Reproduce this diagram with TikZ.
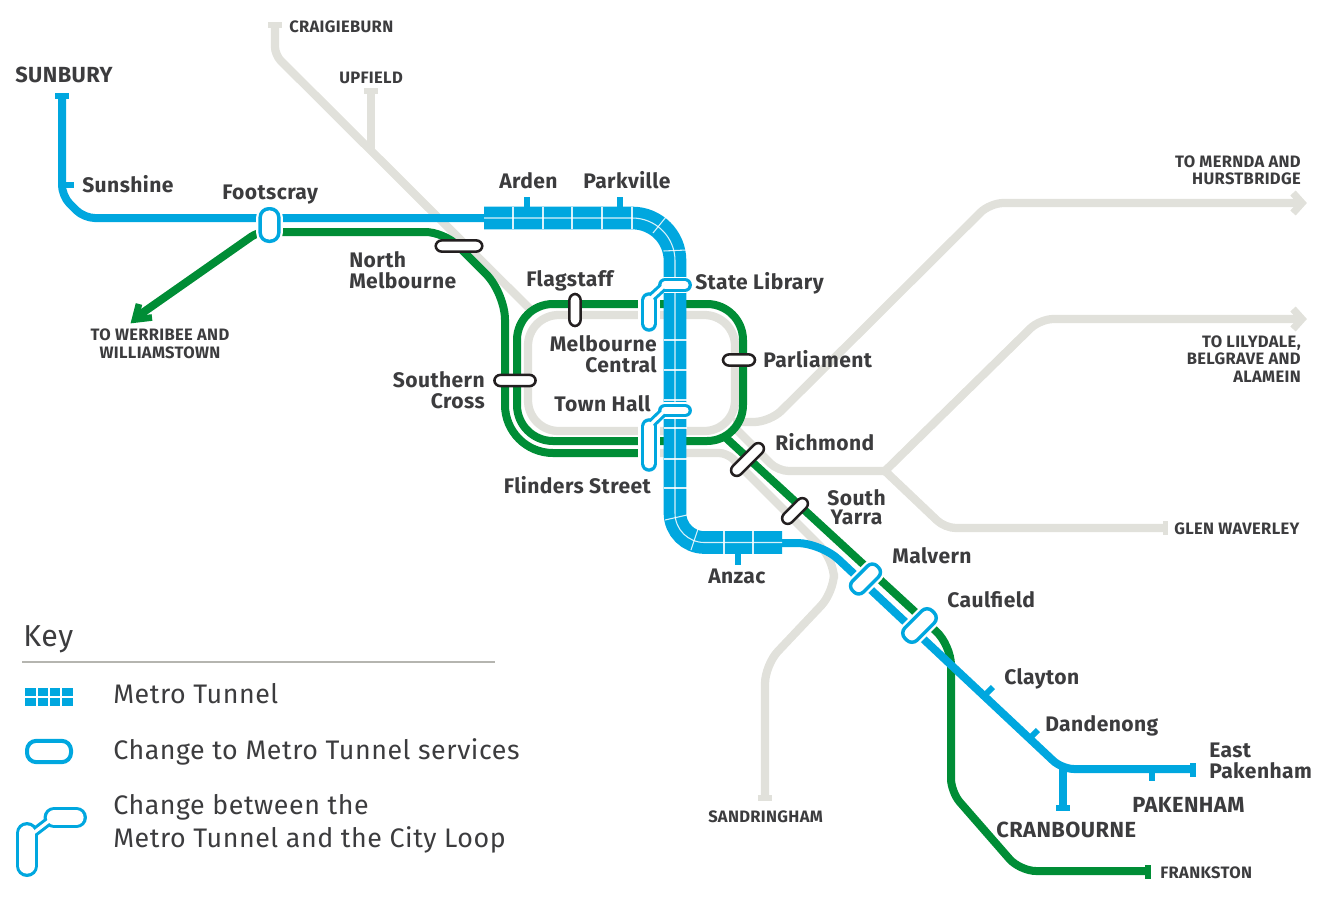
\documentclass[tikz,border=0pt]{standalone}
\usepackage{fontspec}
\setmainfont{Fira Sans}[LetterSpace=2]
\usetikzlibrary{arrows.meta}
\definecolor{mblue}{HTML}{00A7DF}
\definecolor{mgreen}{HTML}{008D36}
\definecolor{mgrey}{HTML}{E1E1DB}
\definecolor{mtext}{HTML}{3C3C3E}
\definecolor{mrule}{HTML}{B5B5B0}
\definecolor{mblack}{HTML}{231F20}
\tikzset{
 greyline/.style={draw=mgrey,line width=6.2pt},
 greenline/.style={draw=mgreen,line width=6pt},
 blueline/.style={draw=mblue,line width=6pt},
 bluestub/.style={draw=mblue,line width=4.4pt},
 greystub/.style={draw=mgrey,line width=4.4pt},
 tunnel/.style={draw=mblue,line width=17pt},
 tunnelmark/.style={draw=white,line width=0.8pt,opacity=0.85},
 lab/.style={text=mtext,font=\fontsize{15.8}{15.8}\selectfont\bfseries,inner sep=0pt,anchor=base west},
 labr/.style={lab,anchor=base east},
 labc/.style={lab,anchor=base},
 big/.style={text=mtext,font=\fontsize{16.4}{16.4}\selectfont\bfseries,inner sep=0pt,anchor=base west},
 small/.style={text=mtext,font=\fontsize{12.4}{12.4}\selectfont\bfseries,inner sep=0pt,anchor=base west},
 smallr/.style={small,anchor=base east},
 smallc/.style={small,anchor=base},
 keytext/.style={text=mtext,font=\fontsize{20.1}{20.1}\selectfont,inner sep=0pt,anchor=base west},
 pillk/.style={draw=mblack,fill=white,line width=1.9pt,rounded corners=4.5pt,inner sep=0pt},
 pillb/.style={draw=mblue,fill=white,line width=2.6pt,rounded corners=6pt,inner sep=0pt,
   preaction={draw=white,line width=6pt}},
}
% #1 vertical pill x, #2 top y, #3 bottom y, #4 #5 horizontal pill left and right x, #6 its y,
% #7 outer width of the vertical pill, #8 outer height of the horizontal pill (both in pt)
% the link between the two pills runs from \linkA to \linkB
\newcommand{\changepill}[8]{%
 \draw[white,line width=#7+4.5pt,line cap=round] (#1,#2)--(#1,#3);
 \draw[white,line width=#8+2pt,line cap=round] (#4,#6)--(#5,#6);
 \draw[mblue,line width=#7,line cap=round] (#1,#2)--(#1,#3);
 \draw[mblue,line width=#8,line cap=round] (#4,#6)--(#5,#6);
 \draw[mblue,line width=7pt] \linkA--\linkB;
 \draw[white,line width=#7-5pt,line cap=round] (#1,#2)--(#1,#3);
 \draw[white,line width=#8-5pt,line cap=round] (#4,#6)--(#5,#6);
 \draw[white,line width=2.4pt] \linkA--\linkB;
}
\begin{document}
\begin{tikzpicture}[x=0.75pt,y=-0.75pt]
\useasboundingbox (0,0) rectangle (1322,904);
% grey lines
\draw[greyline] (275,25)[rounded corners=6pt]--(275,55)--(532,311);
\draw[greyline] (371,90)--(371,151);
\draw[greyline,rounded corners=23pt] (640,315)--(528,315)--(528,431)--(735,431)--(735,315)--cycle;
\draw[greyline] (733,422)[rounded corners=12pt]--(770,422)[rounded corners=10pt]--(990,203)--(1300,203);
\draw[greyline] (733,426)[rounded corners=8pt]--(778,471)--(885,471);
\draw[greyline,line cap=round] (885,471)[rounded corners=10pt]--(1040,319)--(1298,319);
\draw[greyline,line cap=round] (885,471)[rounded corners=8pt]--(945,528)--(1163,528);
\draw[greyline] (640,453)[rounded corners=6pt]--(727,453)[rounded corners=14pt]--(834,560)--(834,592)--(765,665)--(765,797);
\draw[greystub] (268,25)--(282,25);
\draw[greystub] (364,91)--(378,91);
\draw[greystub] (1165.5,521)--(1165.5,535);
\draw[greystub] (758,798)--(772,798);
\draw[mgrey,line width=5.5pt,line join=miter] (1293,193)--(1302,203)--(1293,213);
\draw[mgrey,line width=5.5pt,line join=miter] (1293,309)--(1302,319)--(1293,329);
% green lines
\draw[greenline] (138,316)[rounded corners=6pt]--(258,232)[rounded corners=14pt]--(444,232)[rounded corners=20pt]--(505,293)[rounded corners=36pt]--(505,453)--(640,453);
\draw[greenline,rounded corners=27pt] (640,304)--(517,304)--(517,441)--(743,441)--(743,304)--cycle;
\draw[greenline] (725,437)[rounded corners=15pt]--(951,645)[rounded corners=10pt]--(951,792)[rounded corners=12pt]--(1020,871)--(1146,871);
\draw[mgreen,line width=5pt,line join=miter] (152,317.5)--(135,319.5)--(139,304);
\draw[draw=mgreen,line width=4.4pt] (1148,865)--(1148,879);
% blue thin lines
\draw[blueline] (62,95)[rounded corners=8pt]--(62,196)--(84,218)--(490,218);
\draw[blueline] (780,543)[rounded corners=18pt]--(821,543)[rounded corners=9pt]--(1062,769)--(1192,769);
\draw[blueline] (1063,765)--(1063,808);
\draw[bluestub] (55,96)--(69,96);
\draw[bluestub] (1056,808)--(1070,808);
\draw[bluestub] (1193,763)--(1193,777);
\draw[bluestub] (62,185)--(74,185);
\draw[bluestub] (527,197)--(527,210);
\draw[bluestub] (620,197)--(620,210);
\draw[bluestub] (738,552)--(738,565);
\draw[bluestub] (985,695)--(993,687);
\draw[bluestub] (1030,738)--(1038,730);
\draw[bluestub] (1152,770)--(1152,781);
% tunnel
\draw[tunnel] (484,218)[rounded corners=32pt]--(675,218)[rounded corners=22pt]--(675,542.5)--(782,542.5);
\draw[tunnelmark] (484,218)[rounded corners=32pt]--(675,218)[rounded corners=22pt]--(675,542.5)--(782,542.5);
\foreach \x in {513,543,572,602,632} \draw[tunnelmark] (\x,207)--(\x,229);
\draw[tunnelmark] (653,233)--(666,217);
\draw[tunnelmark] (663.5,251)--(686.5,250);
\foreach \y in {340,370,400,428,459,488} \draw[tunnelmark] (663.5,\y)--(686.5,\y);
\draw[tunnelmark] (665,520)--(687,515);
\draw[tunnelmark] (698,529)--(691,550);
\foreach \x in {724,753} \draw[tunnelmark] (\x,531)--(\x,554);
% change pills
\def\linkA{(651,298)}\def\linkB{(663,287)}
\changepill{649}{300.5}{323.5}{665}{685}{285}{12.4pt}{10.4pt}
\def\linkA{(651,424)}\def\linkB{(663,412.5)}
\changepill{649}{426.5}{463.5}{665}{685}{410.5}{12.4pt}{10.4pt}
% simple pills
\node[pillb,minimum width=14pt,minimum height=24.4pt,rounded corners=6.5pt,preaction={draw=white,line width=4pt}] (footscray) at (269.5,225) {};
\node[pillk,minimum width=35pt,minimum height=8.4pt] (northmelb) at (459,246) {};
\node[pillk,minimum width=8.4pt,minimum height=24pt] (flagstaff) at (575,310) {};
\node[pillk,minimum width=31pt,minimum height=8.4pt] (southerncross) at (515,380.5) {};
\node[pillk,minimum width=24pt,minimum height=8.4pt] (parliament) at (739,360) {};
\node[pillk,minimum width=31.5pt,minimum height=8.6pt,rotate=45] (richmond) at (747.5,459.5) {};
\node[pillk,minimum width=24pt,minimum height=8.6pt,rotate=45] (southyarra) at (795,511) {};
\node[pillb,minimum width=26pt,minimum height=11.6pt,rotate=45,rounded corners=5pt] (malvern) at (865.5,579) {};
\node[pillb,minimum width=29pt,minimum height=13pt,rotate=45,rounded corners=5.5pt] (caulfield) at (919.5,625.5) {};
% labels
\node[big] (tsunbury) at (15,82) {SUNBURY};
\node[lab] (tsunshine) at (82,192) {Sunshine};
\node[lab] (tfootscray) at (222,199) {Footscray};
\node[lab] (tarden) at (499,188) {Arden};
\node[lab] (tparkville) at (583,188) {Parkville};
\node[lab] (tnorth) at (349,267) {North};
\node[lab] (tmelb) at (349,288) {Melbourne};
\node[lab] (tflag) at (526,286) {Flagstaff};
\node[lab] (tstate) at (695,289) {State Library};
\node[labr] (tmc1) at (657,351) {Melbourne};
\node[labr] (tmc2) at (657,372) {Central};
\node[lab] (tparl) at (763,367) {Parliament};
\node[labr] (tsc1) at (485,387) {Southern};
\node[labr] (tsc2) at (485,408) {Cross};
\node[labr] (ttown) at (651,411) {Town Hall};
\node[labr] (tflin) at (651,493) {Flinders Street};
\node[lab] (trich) at (775,450) {Richmond};
\node[labc] (tsy1) at (856.5,505) {South};
\node[labc] (tsy2) at (856.5,524) {Yarra};
\node[lab] (tmal) at (892,563) {Malvern};
\node[lab] (tcaul) at (947,607) {Caulfield};
\node[lab] (tanzac) at (708,583) {Anzac};
\node[lab] (tclay) at (1004,684) {Clayton};
\node[lab] (tdand) at (1045,731) {Dandenong};
\node[lab] (tep1) at (1209,757) {East};
\node[lab] (tep2) at (1209,778) {Pakenham};
\node[big] (tpak) at (1132,812) {PAKENHAM};
\node[big] (tcran) at (996,837) {CRANBOURNE};
\node[small] (tfrank) at (1160,878) {FRANKSTON};
\node[small] (tglen) at (1174,534) {GLEN WAVERLEY};
\node[small] (tsand) at (708,822) {SANDRINGHAM};
\node[smallr] (tm1) at (1301,167) {TO MERNDA AND};
\node[smallr] (tm2) at (1301,184) {HURSTBRIDGE};
\node[smallr] (tl1) at (1301,347) {TO LILYDALE,};
\node[smallr] (tl2) at (1301,364) {BELGRAVE AND};
\node[smallr] (tl3) at (1301,382) {ALAMEIN};
\node[smallc] (tw1) at (160,340) {TO WERRIBEE AND};
\node[smallc] (tw2) at (160,358) {WILLIAMSTOWN};
\node[small] (tcraig) at (289,32) {CRAIGIEBURN};
\node[small] (tup) at (339,83) {UPFIELD};
% key
\node[keytext,font=\fontsize{22.7}{22.7}\selectfont] (tkey) at (23,646) {Key};
\draw[mrule,line width=1.2pt] (22,662)--(495,662);
\fill[mblue] (25,688) rectangle (73,706);
\draw[white,line width=0.8pt] (25,697)--(73,697);
\foreach \x in {37,49,61} \draw[white,line width=0.8pt] (\x,688)--(\x,706);
\node[draw=mblue,fill=white,line width=3pt,minimum width=33pt,minimum height=16pt,rounded corners=7pt,inner sep=0pt] (keypill) at (49,751.5) {};
\def\linkA{(32,834)}\def\linkB{(49,821)}
\changepill{27}{833}{866}{54}{76.5}{817.5}{16.5pt}{15.7pt}
\node[keytext] (k1) at (113,703) {Metro Tunnel};
\node[keytext] (k2) at (113,759) {Change to Metro Tunnel services};
\node[keytext] (k3) at (113,814) {Change between the};
\node[keytext] (k4) at (113,847) {Metro Tunnel and the City Loop};
\end{tikzpicture}
\end{document}
